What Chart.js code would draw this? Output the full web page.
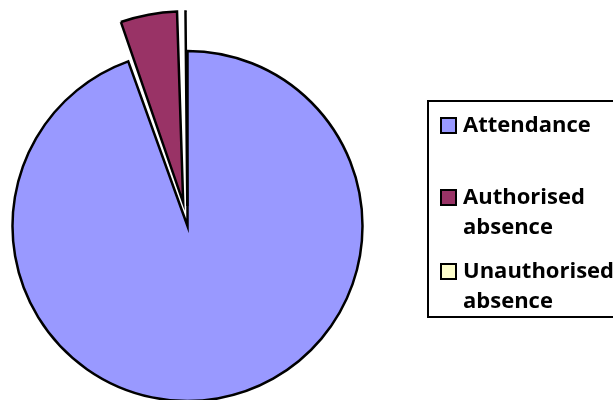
<!DOCTYPE html>
<html>
<head>
<meta charset="utf-8">
<script src="https://cdn.jsdelivr.net/npm/chart.js@4"></script>
<style>
  html, body { margin: 0; padding: 0; background: #fff; overflow: hidden; }
  #wrap { position: relative; width: 613px; height: 400px; }
  #chart { position: absolute; left: 0; top: 0; }
  #legend {
    position: absolute; left: 427px; top: 100px; width: 200px; height: 214px;
    border: 2px solid #000; box-sizing: content-box;
  }
  .item { position: absolute; left: 0; font-family: 'Open Sans', sans-serif; font-weight: bold;
          font-size: 22px; line-height: 30px; color: #000; }
  .item .box { position: absolute; left: 11px; width: 13px; height: 13px; border: 2px solid #000; }
  .item .txt { position: absolute; left: 34px; width: 152px; }
</style>
</head>
<body>
<div id="wrap">
  <canvas id="chart" width="613" height="400"></canvas>
  <div id="legend"></div>
</div>
<script>
'use strict';

const categories = ['Attendance', 'Authorised absence', 'Unauthorised absence'];
const percentages = [94.5, 5.2, 0.3];
const sliceColours = ['#9999FF', '#993366', '#FFFFCC'];

// legend rows (top of each row inside the legend box)
const legendRowTops = [6, 78, 152];

const legend = document.querySelector('#legend');
categories.forEach((name, i) => {
    const item = document.createElement('div');
    item.className = 'item';
    item.style.top = legendRowTops[i] + 'px';
    item.innerHTML = '<div class="box" style="top:9px;background:' + sliceColours[i] + '"></div>' +
        '<div class="txt">' + name + '</div>';
    legend.appendChild(item);
});

const data = {
    labels: categories,
    datasets: [{
        data: percentages,
        backgroundColor: sliceColours,
        borderColor: '#000',
        borderWidth: 2.5,
        borderJoinStyle: 'miter',
        offset: [0, 95, 80]
    }]
};

const config = {
    type: 'pie',
    data: data,
    options: {
        responsive: false,
        animation: false,
        radius: 175,
        layout: {
            padding: { left: 0, top: 52, right: 238, bottom: 0 }
        },
        plugins: {
            legend: { display: false },
            tooltip: { enabled: false }
        }
    }
};

const myChart = new Chart(document.querySelector('#chart'), config);
</script>
</body>
</html>
